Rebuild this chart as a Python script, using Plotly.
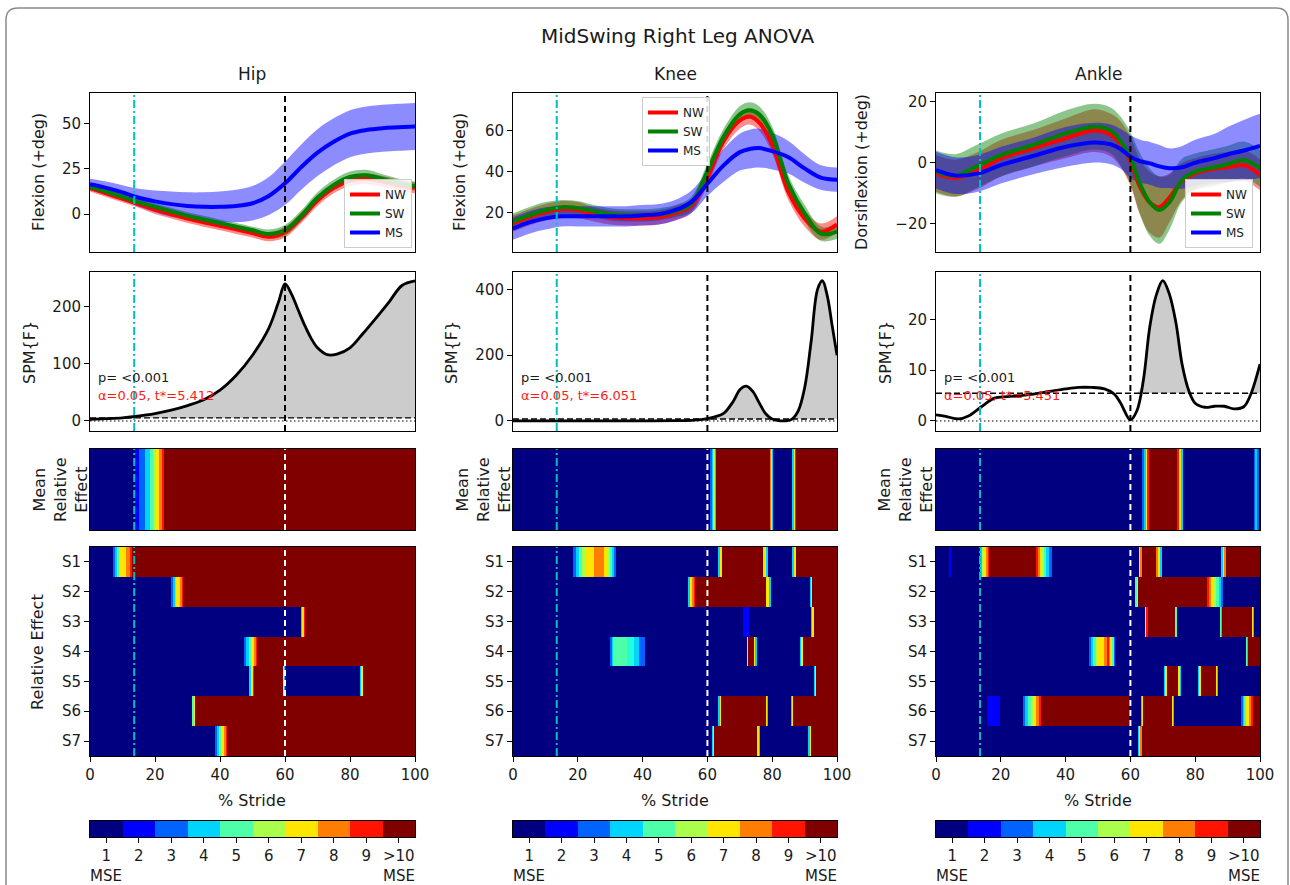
import numpy as np
import plotly.graph_objects as go

# ======================= DATA =======================
JOINTS = ["Hip", "Knee", "Ankle"]
GROUPS = ["NW", "SW", "MS"]

# --- kinematics (mean and SD across strides), % stride ---
HIP_X = [0, 5, 10, 15, 20, 25, 30, 35, 40, 45, 50, 55, 60, 65, 70, 75, 80, 85, 90, 95, 100]
HIP_NW = [14.5, 11.5, 8.5, 5.5, 2.5, 0, -2.5, -4.5, -6.5, -8.5, -10.5, -12.5, -10, -2, 7.5, 14.5, 18.5, 19.5, 18, 16, 14.5]
HIP_SW = [15, 12.5, 9.5, 6.5, 4, 1.5, -1, -3, -5, -7, -9, -11, -9, -1, 9, 16, 20.5, 21.5, 19.5, 17, 15.5]
HIP_MS = [16.5, 14.5, 12, 9, 7, 5.5, 4.5, 4, 4, 4.5, 6, 10, 17, 26, 34, 40, 44.5, 46.5, 47.5, 48, 48.5]
HIP_NW_SD = [2, 2, 2, 2, 2.5, 2.5, 2.5, 2.5, 2.5, 2.5, 2.5, 2.5, 3, 3, 3, 3, 3, 3, 3, 3, 3]
HIP_SW_SD = [2, 2, 2, 2, 2, 2, 2, 2, 2, 2, 2, 2.5, 3, 3, 3, 3, 3, 3, 2.5, 2.5, 2.5]
HIP_MS_SD = [3, 3.5, 4, 5, 6, 7, 7.5, 8, 8.5, 9, 9.5, 10.5, 12, 12.5, 13, 13, 13, 13, 13, 13, 13]

KNEE_X = [0, 5, 10, 15, 20, 25, 30, 35, 40, 45, 50, 55, 60, 65, 70, 73, 76, 80, 85, 90, 95, 100]
KNEE_NW = [14.5, 17.5, 20, 21.5, 21, 19, 17.5, 17, 17, 17.5, 19.5, 23, 37, 55, 65, 67, 64, 53, 30, 17, 10.5, 14]
KNEE_SW = [15.5, 18.5, 21, 22.5, 22, 20.5, 19, 18.5, 18.5, 19, 20.5, 24, 40, 57, 68, 70, 68, 58, 34, 19.5, 9.5, 10.5]
KNEE_MS = [12, 15, 17, 18, 18, 18, 18, 18, 18.5, 19, 21, 25, 34, 43, 49.5, 51, 51.5, 50, 47, 41.5, 37, 36]
KNEE_NW_SD = [4, 4, 4, 4, 4, 3.5, 3.5, 3.5, 3.5, 3.5, 3.5, 3.5, 4, 4, 4, 4, 4, 4, 4, 4, 4, 4]
KNEE_SW_SD = [4, 4, 4, 3.5, 3.5, 3, 3, 3, 3, 3, 3, 3.5, 4, 4, 4, 4, 4, 4, 4, 4, 3.5, 3.5]
KNEE_MS_SD = [5.5, 5.5, 5.5, 5, 5, 5, 5, 5, 5, 5, 5, 5.5, 6, 8, 9, 9.5, 9.5, 9, 8, 7, 6, 6]

ANKLE_X = [0, 6, 13, 20, 30, 40, 49, 54, 57, 60, 63, 66, 69, 72, 76, 80, 86, 90, 95, 100]
ANKLE_NW = [-3.5, -5, -2.5, 1.4, 4.7, 8, 10.5, 9, 6, 0.5, -8, -13, -14.5, -11.5, -6, -3.5, -2, -1.5, -0.8, -4]
ANKLE_SW = [-3, -4.2, -1, 2.5, 5.8, 9.6, 11.8, 10.5, 7, 1.5, -7, -13, -15.5, -13, -5.6, -3, -1.5, -0.5, 0.9, -1.8]
ANKLE_MS = [-2.4, -4.2, -3.5, -0.8, 2.2, 5.2, 6.6, 6, 4.5, 2, 0.5, -0.2, -1.2, -1.8, -1.5, 0, 1.5, 2.7, 4, 5.5]
ANKLE_NW_SD = [6, 6, 6, 6, 6, 6.5, 7, 7, 7.5, 8, 9, 10, 10, 8, 6, 5, 5, 5, 5, 5]
ANKLE_SW_SD = [7, 7, 7, 7, 7, 7.5, 7.5, 7.5, 8, 8.5, 10, 11, 11, 9, 7, 6, 6, 6, 6, 6]
ANKLE_MS_SD = [6, 6, 6, 6, 6, 6.5, 6.5, 6.5, 6.5, 7, 7, 7, 7, 6.5, 7, 7.5, 8, 9, 10, 10.5]

KIN_YRANGE = [(-21, 67), (0.5, 78.5), (-29.2, 22.8)]
KIN_TICKS = [[0, 25, 50], [20, 40, 60], [-20, 0, 20]]

# --- SPM{F} curves ---
HIP_SPM_X = [0, 5, 10, 14, 20, 25, 30, 35, 40, 45, 50, 55, 58, 60, 62, 64, 66, 68, 70, 73, 76, 80, 84, 88, 92, 96, 100]
HIP_SPM_F = [3, 4, 5.5, 8, 13, 19, 27, 37, 54, 80, 115, 162, 208, 240, 222, 195, 168, 145, 128, 116, 117, 128, 153, 180, 208, 237, 245]
KNEE_SPM_X = [0, 10, 20, 30, 40, 50, 55, 58, 60, 62, 65, 68, 70, 72, 74, 76, 78, 80, 82, 84, 86, 88, 90, 92, 94, 95.5, 97, 98.5, 100]
KNEE_SPM_F = [0.5, 0.5, 0.5, 0.5, 0.5, 1, 2, 4, 7, 12, 23, 60, 95, 106, 90, 55, 22, 6, 1, 0.5, 5, 30, 100, 240, 400, 426, 380, 290, 200]
ANKLE_SPM_X = [0, 3, 7, 10, 14, 18, 22, 26, 30, 35, 40, 44, 48, 52, 55, 57, 60, 62, 64, 66, 68, 70, 72, 74, 76, 78, 80, 83, 86, 89, 92, 95, 97, 100]
ANKLE_SPM_F = [1.2, 0.9, 0.4, 1, 2.8, 4.5, 4.8, 5, 5.3, 5.8, 6.3, 6.6, 6.6, 6.3, 5.3, 3.5, 0.2, 2, 8, 18.6, 24.8, 27.6, 25, 19.5, 11, 6, 3.5, 2.7, 2.9, 2.9, 2.4, 2.8, 5, 11.2]
SPM_THRESH = [5.412, 6.051, 5.451]
SPM_P_TEXT = ["p= <0.001", "p= <0.001", "p= <0.001"]
SPM_CLUSTERS = [[(12, 100)], [(61, 100)], [(62.5, 78.5), (96.5, 100)]]
SPM_YRANGE = [(-17.5, 260.6), (-30.4, 452.6), (-1.97, 29.3)]
SPM_TICKS = [[0, 100, 200], [0, 200, 400], [0, 10, 20]]

# --- events (% stride) ---
EVENT_X = [13.6, 13.5, 13.6]   # cyan dash-dot marker
TOE_OFF = 60                   # dashed marker

# --- relative effect maps: (start %, MSE level) breakpoints, level 10 = ">10" ---
HIP_MEAN = [(0, 1), (13.8, 2), (15, 3), (16.9, 4), (18.5, 5), (19.4, 6), (20.2, 7), (21.2, 8), (22, 9), (22.8, 10)]
HIP_S = [
    [(0, 1), (7.2, 3), (7.8, 4), (8.4, 5), (9, 7), (11, 8), (12.3, 9), (13, 10)],
    [(0, 1), (24.8, 3), (25.4, 4), (26, 5), (26.6, 7), (27.6, 8), (28.2, 9), (28.6, 10)],
    [(0, 1), (64.8, 4), (65.3, 7), (65.9, 9), (66.3, 10)],
    [(0, 1), (47.4, 3), (48, 4), (48.8, 5), (49.4, 7), (50.4, 8), (51, 9), (51.4, 10)],
    [(0, 1), (49, 4), (49.4, 7), (50.2, 9), (50.6, 10), (59.3, 7), (59.7, 4), (60, 1), (83.1, 4), (83.5, 7), (83.9, 10)],
    [(0, 1), (31.5, 5), (31.9, 7), (32.3, 10)],
    [(0, 1), (38.5, 3), (39.1, 4), (39.7, 5), (40.3, 7), (41.2, 8), (41.7, 9), (42, 10)],
]
KNEE_MEAN = [(0, 1), (60.8, 3), (61.3, 4), (61.8, 6), (62.3, 8), (62.8, 10), (79.3, 8), (79.6, 6), (79.9, 4), (80.3, 1),
             (86.2, 4), (86.6, 7), (87, 9), (87.3, 10)]
KNEE_S = [
    [(0, 1), (18.5, 3), (19.5, 4), (20.5, 5), (21.3, 6), (22.2, 7), (25, 8), (28, 7), (29, 6), (29.8, 5), (30.5, 4),
     (31.2, 3), (31.8, 1), (63.3, 4), (63.9, 7), (64.5, 10), (77.2, 7), (78, 4), (78.7, 1), (86.2, 4), (86.8, 7), (87.4, 10)],
    [(0, 1), (54.1, 4), (54.7, 7), (55.3, 8), (55.8, 9), (56.2, 10), (78.2, 7), (78.9, 4), (79.5, 1), (91.6, 4), (91.9, 7), (92.2, 10)],
    [(0, 1), (71, 2), (72.9, 1), (92.1, 4), (92.4, 7), (92.8, 10)],
    [(0, 1), (30, 3), (30.5, 4), (31, 5), (35.3, 4.5), (37.3, 4), (38.8, 3), (40.8, 1), (72.1, 7), (72.6, 10), (74.3, 7),
     (74.8, 4), (75.2, 1), (88.5, 4), (89, 7), (89.5, 10)],
    [(0, 1), (92.8, 4), (93.1, 7), (93.4, 10)],
    [(0, 1), (63.3, 4), (63.8, 7), (64.3, 10), (78, 7), (78.4, 4), (78.7, 1), (85.7, 4), (86, 7), (86.4, 10)],
    [(0, 1), (61.3, 4), (61.7, 7), (62.1, 10), (75.4, 7), (75.8, 4), (76.2, 1), (91.1, 4), (91.6, 7), (92.1, 10)],
]
ANKLE_MEAN = [(0, 1), (63.7, 3), (64.2, 4), (64.7, 7), (65.2, 9), (65.6, 10), (74.5, 9), (75, 7), (75.6, 4), (76.2, 1),
              (98.1, 3), (98.6, 4), (99.2, 3), (99.8, 1)]
ANKLE_S = [
    [(0, 1), (4.1, 2), (4.5, 1), (13.5, 4), (14.2, 6), (14.8, 7), (15.4, 8), (15.9, 9), (16.3, 10), (30.9, 9), (31.5, 8),
     (32.1, 7), (32.8, 6), (33.4, 5), (34.1, 4), (35, 3), (35.8, 1), (62.5, 7), (63.1, 8), (63.5, 10), (67.9, 8),
     (68.5, 7), (69.1, 4), (69.7, 1), (87.9, 4), (88.5, 7), (89, 8), (89.5, 10)],
    [(0, 1), (61.5, 5), (61.9, 7), (62.2, 10), (83.6, 9), (84.3, 8), (85, 7), (85.8, 6), (86.5, 5), (87.2, 4), (88, 3), (88.5, 1)],
    [(0, 1), (64.5, 7), (64.9, 9), (65.3, 10), (73.8, 5), (74.3, 1), (87.5, 5), (87.9, 8), (88.2, 10), (97.4, 7), (97.8, 4), (98.1, 1)],
    [(0, 1), (47.1, 3), (47.8, 4), (48.6, 5), (49.4, 6), (50, 7), (51.7, 8), (52.9, 9), (53.4, 8), (53.8, 7), (54.4, 5),
     (55, 3), (55.3, 1), (95.7, 5), (96.1, 8), (96.4, 10)],
    [(0, 1), (70.4, 4), (70.8, 7), (71.2, 10), (74.8, 7), (75.2, 4), (75.5, 1), (80.8, 4), (81.3, 7), (81.7, 10),
     (86.4, 7), (86.8, 4), (87.1, 1)],
    [(0, 1), (15.7, 2), (19.6, 1), (26.8, 3), (27.5, 4), (28.3, 5), (29.2, 6), (30, 7), (31, 8), (31.8, 9), (32.4, 10),
     (59.7, 1), (63.2, 4), (63.6, 7), (64, 10), (72.8, 7), (73.1, 4), (73.5, 1), (94, 3), (94.6, 4), (95.2, 5),
     (95.8, 7), (96.6, 8), (97.3, 9), (97.9, 10)],
    [(0, 1), (62.2, 4), (62.6, 7), (63.1, 8), (63.5, 10)],
]
SUBJECTS = ["S1", "S2", "S3", "S4", "S5", "S6", "S7"]
CB_LEVELS = [1, 2, 3, 4, 5, 6, 7, 8, 9, 10]
CB_LABELS = ["1", "2", "3", "4", "5", "6", "7", "8", "9", ">10"]

# ======================= STYLE / LAYOUT =======================
W, H = 1290, 885
FONT = "DejaVu Sans"
TXT = "#1a1a1a"
GROUP_COLORS = {"NW": (255, 0, 0), "SW": (0, 128, 0), "MS": (0, 0, 255)}
CYAN = "#00BFBF"


def px(x):
    return x / W


def py(y):
    return 1 - y / H


COL_X = [(90, 415), (513, 837), (936, 1260)]
ROW_Y = [(93, 252), (272, 431), (449, 530), (547, 756), (821, 837)]


def jet_scale():
    r = [(0, 0), (0.35, 0), (0.66, 1), (0.89, 1), (1, 0.5)]
    g = [(0, 0), (0.125, 0), (0.375, 1), (0.64, 1), (0.91, 0), (1, 0)]
    b = [(0, 0.5), (0.11, 1), (0.34, 1), (0.65, 0), (1, 0)]
    pts = sorted(set([p for ch in (r, g, b) for p, _ in ch]))
    out = []
    for p in pts:
        vals = [np.interp(p, [a for a, _ in ch], [v for _, v in ch]) for ch in (r, g, b)]
        out.append([p, "rgb(%d,%d,%d)" % tuple(int(round(v * 255)) for v in vals)])
    return out


JET = jet_scale()


def regrid(rows):
    """Put several breakpoint rows onto one shared set of bin edges (step values, no interpolation)."""
    edges = sorted(set(b[0] for row in rows for b in row) | {100})
    z = []
    for row in rows:
        starts = [b[0] for b in row]
        levels = [b[1] for b in row]
        zr = []
        for e in edges[:-1]:
            k = max(i for i, s in enumerate(starts) if s <= e)
            zr.append(levels[k])
        z.append(zr)
    return edges, z


fig = go.Figure()
layout = {}
shapes = []
annotations = []


def names(idx):
    s = "" if idx == 1 else str(idx)
    return "x" + s, "y" + s, "xaxis" + s, "yaxis" + s


KIN = [
    (HIP_X, [HIP_NW, HIP_SW, HIP_MS], [HIP_NW_SD, HIP_SW_SD, HIP_MS_SD]),
    (KNEE_X, [KNEE_NW, KNEE_SW, KNEE_MS], [KNEE_NW_SD, KNEE_SW_SD, KNEE_MS_SD]),
    (ANKLE_X, [ANKLE_NW, ANKLE_SW, ANKLE_MS], [ANKLE_NW_SD, ANKLE_SW_SD, ANKLE_MS_SD]),
]
SPM = [(HIP_SPM_X, HIP_SPM_F), (KNEE_SPM_X, KNEE_SPM_F), (ANKLE_SPM_X, ANKLE_SPM_F)]
MEANS = [HIP_MEAN, KNEE_MEAN, ANKLE_MEAN]
SUBJ = [HIP_S, KNEE_S, ANKLE_S]
LEGENDS = ["legend", "legend2", "legend3"]

tickfont = dict(family=FONT, size=15, color=TXT)
base_axis = dict(showline=True, mirror=True, linecolor="black", linewidth=1, showgrid=False, zeroline=False,
                 tickfont=tickfont, ticklen=5, tickwidth=1, tickcolor="black", automargin=False)

for c in range(3):
    x0, x1 = COL_X[c]
    # ---- axes ----
    for r in range(5):
        idx = r * 3 + c + 1
        xn, yn, xa, ya = names(idx)
        y0, y1 = ROW_Y[r]
        xax = dict(base_axis, domain=[px(x0), px(x1)], anchor=yn, range=[0, 100])
        yax = dict(base_axis, domain=[py(y1), py(y0)], anchor=xn)
        if r in (0, 1, 2):
            xax.update(showticklabels=False, ticks="")
        if r == 3:
            xax.update(ticks="outside", tickvals=[0, 20, 40, 60, 80, 100])
        if r == 4:
            xax.update(range=[0, 10], ticks="outside", tickvals=[i + 0.5 for i in range(10)], ticktext=CB_LABELS)
            yax.update(range=[0, 1], ticks="", showticklabels=False)
        if r == 0:
            yax.update(range=list(KIN_YRANGE[c]), ticks="outside", tickvals=KIN_TICKS[c])
        if r == 1:
            yax.update(range=list(SPM_YRANGE[c]), ticks="outside", tickvals=SPM_TICKS[c])
        if r == 2:
            yax.update(range=[-0.5, 0.5], ticks="", showticklabels=False)
        if r == 3:
            yax.update(range=[6.5, -0.5], ticks="outside", tickvals=list(range(7)), ticktext=SUBJECTS)
        layout[xa] = xax
        layout[ya] = yax

    # ---- row 0: kinematics ----
    xn, yn, _, _ = names(c + 1)
    X, means, sds = KIN[c]
    for g, m, s in zip(GROUPS, means, sds):
        rgb = GROUP_COLORS[g]
        up = [a + b for a, b in zip(m, s)]
        lo = [a - b for a, b in zip(m, s)]
        fig.add_trace(go.Scatter(x=X, y=up, xaxis=xn, yaxis=yn, mode="lines", line=dict(width=0, shape="spline"),
                                 showlegend=False, hoverinfo="skip", legend=LEGENDS[c]))
        fig.add_trace(go.Scatter(x=X, y=lo, xaxis=xn, yaxis=yn, mode="lines", line=dict(width=0, shape="spline"),
                                 fill="tonexty", fillcolor="rgba(%d,%d,%d,0.45)" % rgb, showlegend=False,
                                 hoverinfo="skip", legend=LEGENDS[c]))
    for g, m in zip(GROUPS, means):
        rgb = GROUP_COLORS[g]
        fig.add_trace(go.Scatter(x=X, y=m, xaxis=xn, yaxis=yn, mode="lines", name=g,
                                 line=dict(width=4, color="rgb(%d,%d,%d)" % rgb, shape="spline"),
                                 legend=LEGENDS[c], showlegend=True))

    # ---- row 1: SPM ----
    xn, yn, _, _ = names(3 + c + 1)
    SX, SF = SPM[c]
    thr = SPM_THRESH[c]
    fill_y = []
    for xv, fv in zip(SX, SF):
        inside = any(a <= xv <= b for a, b in SPM_CLUSTERS[c])
        fill_y.append(max(fv, thr) if inside else thr)
    fig.add_trace(go.Scatter(x=SX, y=[thr] * len(SX), xaxis=xn, yaxis=yn, mode="lines", line=dict(width=0),
                             showlegend=False, hoverinfo="skip"))
    fig.add_trace(go.Scatter(x=SX, y=fill_y, xaxis=xn, yaxis=yn, mode="lines", line=dict(width=0, shape="spline"),
                             fill="tonexty", fillcolor="#cccccc", showlegend=False, hoverinfo="skip"))
    shapes.append(dict(type="line", xref=xn + " domain", yref=yn, x0=0, x1=1, y0=thr, y1=thr,
                       line=dict(color="black", width=1.3, dash="6px,3px")))
    shapes.append(dict(type="line", xref=xn + " domain", yref=yn, x0=0, x1=1, y0=0, y1=0,
                       line=dict(color="black", width=1, dash="1.5px,2.5px")))
    fig.add_trace(go.Scatter(x=SX, y=SF, xaxis=xn, yaxis=yn, mode="lines",
                             line=dict(width=2.8, color="black", shape="spline"), showlegend=False))
    annotations.append(dict(x=px(x0 + 6), y=py(377), xref="paper", yref="paper", text=SPM_P_TEXT[c],
                            showarrow=False, xanchor="left", yanchor="middle",
                            font=dict(family=FONT, size=13, color=TXT)))
    annotations.append(dict(x=px(x0 + 6), y=py(395), xref="paper", yref="paper",
                            text="\u03b1=0.05, t*=%.3f" % thr,
                            showarrow=False, xanchor="left", yanchor="middle",
                            font=dict(family=FONT, size=13, color="#ff1a1a")))

    # ---- row 2: mean relative effect ----
    xn, yn, _, _ = names(6 + c + 1)
    edges, z = regrid([MEANS[c]])
    fig.add_trace(go.Heatmap(x=edges, y=[-0.5, 0.5], z=z, xaxis=xn, yaxis=yn, colorscale=JET,
                             zmin=1, zmax=10, showscale=False, hoverinfo="skip"))

    # ---- row 3: per-subject relative effect ----
    xn, yn, _, _ = names(9 + c + 1)
    edges, z = regrid(SUBJ[c])
    fig.add_trace(go.Heatmap(x=edges, y=[i - 0.5 for i in range(len(SUBJECTS) + 1)], z=z, xaxis=xn, yaxis=yn,
                             colorscale=JET, zmin=1, zmax=10, showscale=False, hoverinfo="skip"))

    # ---- row 4: discrete colour key ----
    xn, yn, _, _ = names(12 + c + 1)
    fig.add_trace(go.Heatmap(x=list(range(11)), y=[0, 1], z=[CB_LEVELS], xaxis=xn, yaxis=yn, colorscale=JET,
                             zmin=1, zmax=10, showscale=False, hoverinfo="skip"))
    for xx in (0.5, 9.5):
        annotations.append(dict(x=xx, y=py(876), xref=xn, yref="paper", text="MSE", showarrow=False,
                                xanchor="center", yanchor="middle", font=dict(family=FONT, size=15, color=TXT)))

    # ---- event lines ----
    for r in range(4):
        xn, yn, _, _ = names(r * 3 + c + 1)
        shapes.append(dict(type="line", xref=xn, yref=yn + " domain", x0=EVENT_X[c], x1=EVENT_X[c], y0=0, y1=1,
                           line=dict(color=CYAN, width=2, dash="8px,3px,2px,3px")))
        shapes.append(dict(type="line", xref=xn, yref=yn + " domain", x0=TOE_OFF, x1=TOE_OFF, y0=0, y1=1,
                           line=dict(color="black" if r < 2 else "white", width=2, dash="6px,4px")))

    # ---- text labels ----
    cx = (x0 + x1) / 2
    annotations.append(dict(x=px(cx), y=py(74), xref="paper", yref="paper", text=JOINTS[c], showarrow=False,
                            font=dict(family=FONT, size=17, color=TXT), xanchor="center", yanchor="middle"))
    annotations.append(dict(x=px(cx), y=py(800), xref="paper", yref="paper", text="% Stride", showarrow=False,
                            font=dict(family=FONT, size=16, color=TXT), xanchor="center", yanchor="middle"))

YLAB = [
    ("Flexion (+deg)", 38, 172), ("Flexion (+deg)", 459, 172), ("Dorsiflexion (+deg)", 861, 172),
    ("SPM{F}", 29, 353), ("SPM{F}", 451, 353), ("SPM{F}", 885, 353),
    ("Mean<br>Relative<br>Effect", 60, 490), ("Mean<br>Relative<br>Effect", 483, 490),
    ("Mean<br>Relative<br>Effect", 905, 490),
    ("Relative Effect", 37, 652),
]
for t, xx, yy in YLAB:
    annotations.append(dict(x=px(xx), y=py(yy), xref="paper", yref="paper", text=t, textangle=-90,
                            showarrow=False, xanchor="center", yanchor="middle",
                            font=dict(family=FONT, size=16, color=TXT)))

annotations.append(dict(x=px(677), y=py(36), xref="paper", yref="paper", text="MidSwing Right Leg ANOVA",
                        showarrow=False, font=dict(family=FONT, size=20, color=TXT),
                        xanchor="center", yanchor="middle"))

# figure border (rounded top corners)
rx, ry = 12 / W, 12 / H
bx0, bx1, bt = px(6), px(1288), py(8)
shapes.append(dict(type="path", xref="paper", yref="paper", layer="above",
                   path="M %f,%f L %f,%f Q %f,%f %f,%f L %f,%f Q %f,%f %f,%f L %f,%f" % (
                       bx0, -0.02, bx0, bt - ry, bx0, bt, bx0 + rx, bt, bx1 - rx, bt, bx1, bt, bx1, bt - ry, bx1, -0.02),
                   line=dict(color="#8a8a8a", width=1.5)))

leg_common = dict(bgcolor="rgba(255,255,255,0.85)", bordercolor="#cccccc", borderwidth=1, traceorder="normal",
                  font=dict(family=FONT, size=12, color=TXT), itemwidth=30, tracegroupgap=0)
layout["legend"] = dict(leg_common, x=px(412), y=py(248), xanchor="right", yanchor="bottom")
layout["legend2"] = dict(leg_common, x=px(642), y=py(97), xanchor="left", yanchor="top")
layout["legend3"] = dict(leg_common, x=px(1253), y=py(248), xanchor="right", yanchor="bottom")

fig.update_layout(width=W, height=H, autosize=False, margin=dict(l=0, r=0, t=0, b=0, pad=0, autoexpand=False),
                  paper_bgcolor="white", plot_bgcolor="white", shapes=shapes, annotations=annotations,
                  font=dict(family=FONT, color=TXT), **layout)
fig.write_html("out.html", config={"responsive": False},
               post_script="document.body.style.margin='0';document.body.style.overflow='hidden';")
